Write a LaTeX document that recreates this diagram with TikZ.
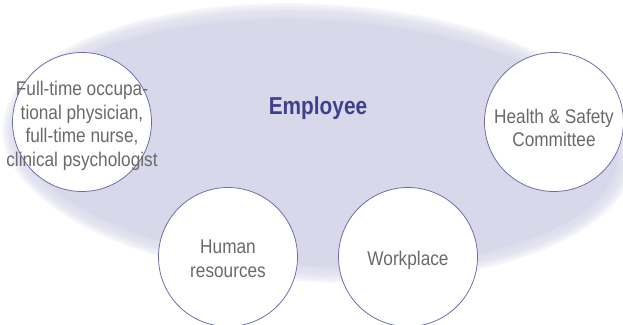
\documentclass[tikz,border=0pt]{standalone}
\usepackage{fontspec}
\setmainfont{Liberation Sans}[FakeStretch=0.87]
\newfontfamily\empfont{Liberation Sans}[FakeStretch=0.85]
\definecolor{ellc}{HTML}{D8D8EA}
\definecolor{ringc}{HTML}{6E6EAE}
\definecolor{txtc}{HTML}{6A6A6A}
\definecolor{empc}{HTML}{3F408C}
\tikzset{
  partycircle/.style={circle, draw=ringc, line width=0.8pt, fill=white, minimum size=139pt, inner sep=0pt},
  partytext/.style={align=center, text=txtc, font=\fontsize{19.8}{23.5}\selectfont, inner sep=0pt},
  emptext/.style={text=empc, font=\empfont\bfseries\fontsize{24.5}{26}\selectfont, inner sep=0pt}
}
\begin{document}
\begin{tikzpicture}[x=1pt,y=-1pt]
\useasboundingbox (0,0) rectangle (623,324);
% soft-edged ellipse
\begin{scope}[shift={(318,143)}, rotate=-3]
  \foreach \k in {8,7,...,1}{
    \fill[ellc, fill opacity=0.22] (0,0) ellipse [x radius={300pt+2pt*\k}, y radius={123pt+2pt*\k}];
  }
  \fill[ellc] (0,0) ellipse [x radius=300pt, y radius=123pt];
\end{scope}
\node[emptext] (emp) at (318,108) {Employee};
% circles
\node[partycircle] (phys) at (82,122) {};
\node[partycircle] (hs) at (554,122) {};
\node[partycircle] (hr) at (228,257) {};
\node[partycircle] (wp) at (408,257) {};
% texts
\node[partytext] (physt) at ([yshift=-4pt]phys.center) {Full-time occupa-\\tional physician,\\full-time nurse,\\clinical psychologist};
\node[partytext] (hst) at ([yshift=-6pt]hs.center) {Health \& Safety\\Committee};
\node[partytext] (hrt) at ([yshift=-2pt]hr.center) {Human\\resources};
\node[partytext] (wpt) at ([yshift=-3pt]wp.center) {Workplace};
\end{tikzpicture}
\end{document}
